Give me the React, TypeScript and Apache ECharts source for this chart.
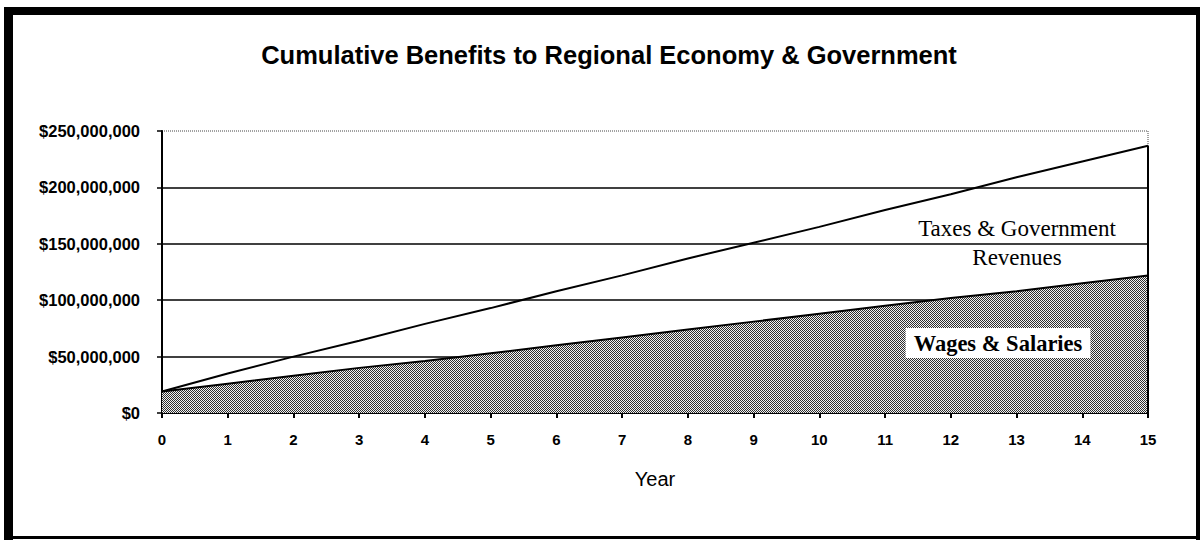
import React, { useEffect, useRef } from "react";
import * as echarts from "echarts";

const years = [0, 1, 2, 3, 4, 5, 6, 7, 8, 9, 10, 11, 12, 13, 14, 15];
// Cumulative wages & salaries (bottom, shaded area)
const wages = [
  19000000, 26000000, 33000000, 40000000, 46000000, 53000000, 60000000, 67000000,
  74000000, 81000000, 88000000, 95000000, 102000000, 108000000, 115000000, 122000000,
];
// Cumulative total incl. taxes & government revenues (top line)
const total = [
  19000000, 35000000, 50000000, 64000000, 79000000, 93000000, 108000000, 122000000,
  137000000, 151000000, 165000000, 180000000, 194000000, 209000000, 223000000, 237000000,
];
const yTicks = [0, 50000000, 100000000, 150000000, 200000000, 250000000];

const titleText = "Cumulative Benefits to Regional Economy & Government";
const xName = "Year";
const taxesLabel = "Taxes & Government\nRevenues";
const wagesLabel = "Wages & Salaries";

const SANS = "'Liberation Sans', Arial, sans-serif";
const SERIF = "'Liberation Serif', 'Times New Roman', serif";

function makePattern(): any {
  const c = document.createElement("canvas");
  c.width = 2;
  c.height = 2;
  const ctx = c.getContext("2d");
  if (!ctx) return "#909090";
  ctx.fillStyle = "#f2f2f2";
  ctx.fillRect(0, 0, 2, 2);
  ctx.fillStyle = "#2e2e2e";
  ctx.fillRect(0, 0, 1, 1);
  ctx.fillRect(1, 1, 1, 1);
  return { image: c, repeat: "repeat" };
}

export default function App() {
  const ref = useRef<HTMLDivElement>(null);
  useEffect(() => {
    document.body.style.margin = "0";
    if (!ref.current) return;
    const chart = echarts.init(ref.current, undefined, { renderer: "svg" });
    const fmt = (v: number) => "$" + Math.round(v).toLocaleString("en-US");
    const last = years.length - 1;
    chart.setOption({
      animation: false,
      backgroundColor: "#ffffff",
      title: {
        text: titleText,
        left: 604,
        textAlign: "center",
        top: 37,
        textStyle: { fontFamily: SANS, fontSize: 25.5, fontWeight: "bold", color: "#000" },
      },
      grid: {
        left: 162,
        right: 53,
        top: 131,
        bottom: 128,
        show: true,
        borderColor: "#444",
        borderWidth: 1,
        borderType: "dotted",
        backgroundColor: "transparent",
      },
      xAxis: {
        type: "value",
        min: 0,
        max: 15,
        interval: 1,
        name: xName,
        nameLocation: "middle",
        nameGap: 56,
        nameTextStyle: { fontFamily: SANS, fontSize: 20, color: "#000" },
        axisLine: { show: true, lineStyle: { color: "#000", width: 2 } },
        axisTick: { show: true, length: 5, lineStyle: { color: "#000", width: 2 } },
        axisLabel: { fontFamily: SANS, fontSize: 15, fontWeight: "bold", color: "#000", margin: 19 },
        splitLine: { show: false },
      },
      yAxis: {
        type: "value",
        min: yTicks[0],
        max: yTicks[yTicks.length - 1],
        interval: yTicks[1] - yTicks[0],
        axisLine: { show: true, lineStyle: { color: "#000", width: 2 } },
        axisTick: { show: true, length: 5, lineStyle: { color: "#000", width: 1.5 } },
        axisLabel: {
          fontFamily: SANS,
          fontSize: 16.5,
          fontWeight: "bold",
          color: "#000",
          margin: 22,
          formatter: fmt,
        },
        splitLine: {
          show: true,
          lineStyle: {
            color: ["#000", "#000", "#000", "#000", "#000", "transparent"],
            width: 1.5,
          },
        },
      },
      series: [
        {
          name: wagesLabel,
          type: "line",
          data: years.map((y, i) => [y, wages[i]]),
          symbol: "none",
          lineStyle: { color: "#000", width: 2 },
          areaStyle: { color: makePattern(), opacity: 1 },
          z: 3,
        },
        {
          name: "Taxes & Government Revenues",
          type: "line",
          data: years.map((y, i) => [y, total[i]]),
          symbol: "none",
          lineStyle: { color: "#000", width: 2 },
          z: 4,
          markLine: {
            silent: true,
            symbol: "none",
            label: { show: false },
            lineStyle: { color: "#000", width: 2, type: "solid" },
            data: [[{ coord: [years[last], 0] }, { coord: [years[last], total[last]] }]],
          },
        },
      ],
      graphic: [
        { type: "rect", shape: { x: 4, y: 7, width: 1196, height: 8 }, style: { fill: "#000" }, z: 100 },
        { type: "rect", shape: { x: 4, y: 7, width: 9, height: 533 }, style: { fill: "#000" }, z: 100 },
        { type: "rect", shape: { x: 1196, y: 7, width: 4, height: 533 }, style: { fill: "#000" }, z: 100 },
        { type: "rect", shape: { x: 4, y: 536, width: 1196, height: 3 }, style: { fill: "#000" }, z: 100 },
        {
          type: "text",
          x: 1017,
          y: 243,
          z: 100,
          style: {
            text: taxesLabel,
            fontFamily: SERIF,
            fontSize: 23,
            lineHeight: 29,
            fill: "#000",
            align: "center",
            verticalAlign: "middle",
          },
        },
        {
          type: "text",
          x: 998,
          y: 343,
          z: 100,
          style: {
            text: wagesLabel,
            fontFamily: SERIF,
            fontSize: 22.5,
            fontWeight: "bold",
            fill: "#000",
            align: "center",
            verticalAlign: "middle",
            backgroundColor: "#fff",
            padding: [4, 8, 3, 8],
          },
        },
      ],
    });
    return () => chart.dispose();
  }, []);
  return <div ref={ref} style={{ width: 1201, height: 541 }} />;
}
